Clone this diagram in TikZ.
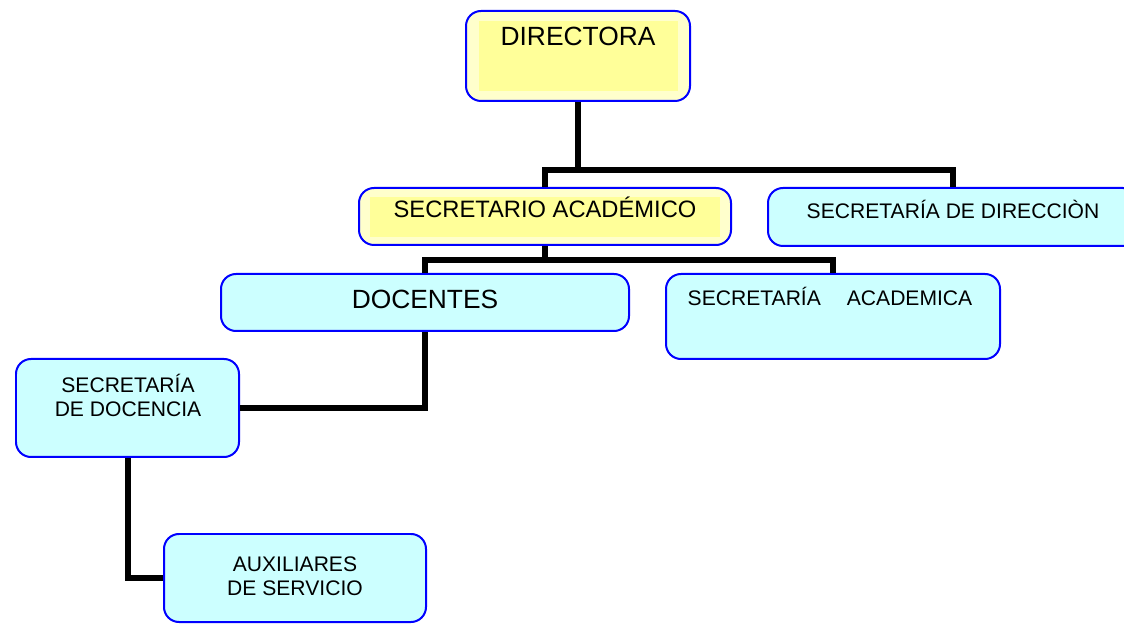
\documentclass[tikz,border=0pt]{standalone}
\usepackage{fontspec}
\setmainfont{Liberation Sans}
\usepackage{tikz}
\usepackage{xcolor}
\usetikzlibrary{calc}

\definecolor{paleyellow}{HTML}{FFFFCC}
\definecolor{brightyellow}{HTML}{FFFF99}
\definecolor{lightcyan}{HTML}{CCFFFF}

\tikzset{
  yelbox/.style={draw=blue, line width=0.04cm, rounded corners=0.3cm, fill=paleyellow},
  cyanbox/.style={draw=blue, line width=0.04cm, rounded corners=0.3cm, fill=lightcyan},
  conn/.style={line width=0.12cm, black},
  bigtxt/.style={font=\fontsize{15}{18}\selectfont, inner sep=0pt},
  midtxt/.style={font=\fontsize{13.5}{16}\selectfont, inner sep=0pt},
  smalltxt/.style={font=\fontsize{12}{13.7}\selectfont, inner sep=0pt, align=center},
}

\begin{document}
\begin{tikzpicture}[scale=1.0]

\useasboundingbox (0,0) rectangle (22.48,-12.48);

% =====================
% Directora
% =====================
\node[yelbox, minimum width=4.48cm, minimum height=1.8cm] (dir) at (11.56,-1.12) {};
\fill[brightyellow] (9.58,-0.42) rectangle (13.56,-1.82);
\node[bigtxt, anchor=base] (dirtext) at (11.56,-0.92) {DIRECTORA};

% =====================
% Second level
% =====================
\node[yelbox, minimum width=7.44cm, minimum height=1.14cm] (secac) at (10.9,-4.33) {};
\fill[brightyellow] (7.4,-3.94) rectangle (14.4,-4.74);
\node[midtxt, anchor=base] (secactext) at (10.9,-4.36) {SECRETARIO ACADÉMICO};

\node[cyanbox, minimum width=7.4cm, minimum height=1.16cm] (secdir) at (19.06,-4.34) {};
\node[smalltxt, anchor=base] (secdirtext) at (19.06,-4.38) {SECRETARÍA DE DIRECCIÒN};

% =====================
% Third level
% =====================
\node[cyanbox, minimum width=8.16cm, minimum height=1.14cm] (doc) at (8.5,-6.05) {};
\node[bigtxt, anchor=base] (doctext) at (8.5,-6.18) {DOCENTES};

\node[cyanbox, minimum width=6.68cm, minimum height=1.7cm] (secaca) at (16.66,-6.33) {};
\node[smalltxt, anchor=base] (secacatext) at (16.6,-6.12) {SECRETARÍA\hspace{0.52cm}ACADEMICA};

% =====================
% Lower levels
% =====================
\node[cyanbox, minimum width=4.46cm, minimum height=1.96cm] (secdoc) at (2.55,-8.16) {};
\node[smalltxt] (secdoctext) at (2.56,-7.9) {SECRETARÍA\\DE DOCENCIA};

\node[cyanbox, minimum width=5.24cm, minimum height=1.76cm] (aux) at (5.9,-11.56) {};
\node[smalltxt] (auxtext) at (5.9,-11.53) {AUXILIARES\\DE SERVICIO};

% =====================
% Connectors
% =====================
\coordinate (bus1) at (11.56,-3.4);
\coordinate (bus2) at (10.9,-5.2);

\draw[conn] (dir.south) -- (bus1);
\draw[conn] (secac.north) |- (bus1) -| (secdir.north);

\draw[conn] (secac.south) -- (bus2);
\draw[conn] (doc.north) |- (bus2) -| (secaca.north);

\draw[conn] (doc.south) |- (secdoc.east);
\draw[conn] (secdoc.south) |- (aux.west);

\end{tikzpicture}
\end{document}
